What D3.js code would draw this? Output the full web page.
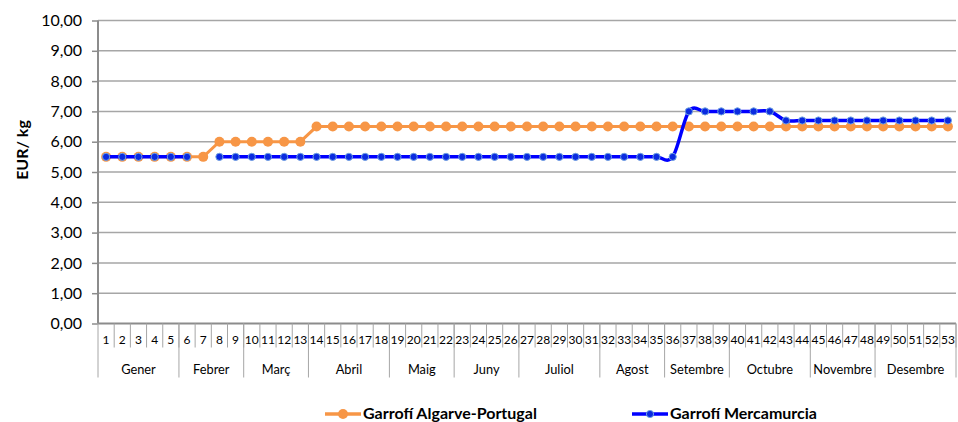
<html>
<head>
<meta charset="utf-8">
<script src="https://cdn.jsdelivr.net/npm/d3@7"></script>
<style>
body { margin: 0; background: white; }
text { font-family: Lato, "Liberation Sans", sans-serif; fill: #000; }
</style>
</head>
<body>
<svg id="chart" width="958" height="422"></svg>
<script>
// categories: week numbers
var weeks = [1,2,3,4,5,6,7,8,9,10,11,12,13,14,15,16,17,18,19,20,21,22,23,24,25,26,27,
  28,29,30,31,32,33,34,35,36,37,38,39,40,41,42,43,44,45,46,47,48,49,50,51,52,53];
var months = ["Gener","Febrer","Març","Abril","Maig","Juny","Juliol","Agost","Setembre","Octubre","Novembre","Desembre"];
var monthWeeks = [5,4,4,5,4,4,5,4,4,5,4,5];
var yTicks = [0,1,2,3,4,5,6,7,8,9,10];

// weeks 1-7, 8-13, 14-53
var algarve = [5.5,5.5,5.5,5.5,5.5,5.5,5.5,
  6.0,6.0,6.0,6.0,6.0,6.0,
  6.5,6.5,6.5,6.5,6.5,6.5,6.5,6.5,6.5,6.5,6.5,6.5,6.5,6.5,6.5,6.5,6.5,6.5,6.5,6.5,
  6.5,6.5,6.5,6.5,6.5,6.5,6.5,6.5,6.5,6.5,6.5,6.5,6.5,6.5,6.5,6.5,6.5,6.5,6.5,6.5];
// weeks 1-6, (7 missing), 8-36, 37-42, 43-53
var mercamurcia = [5.5,5.5,5.5,5.5,5.5,5.5,null,
  5.5,5.5,5.5,5.5,5.5,5.5,5.5,5.5,5.5,5.5,5.5,5.5,5.5,5.5,5.5,5.5,5.5,5.5,5.5,5.5,
  5.5,5.5,5.5,5.5,5.5,5.5,5.5,5.5,5.5,
  7.0,7.0,7.0,7.0,7.0,7.0,
  6.7,6.7,6.7,6.7,6.7,6.7,6.7,6.7,6.7,6.7,6.7];

var svg = d3.select("#chart");
var pLeft = 98, pRight = 956, pTop = 20.5, pBottom = 323.5;
var font = "Lato, 'Liberation Sans', sans-serif";

var x = d3.scaleBand().domain(weeks).range([pLeft, pRight]);
var y = d3.scaleLinear().domain([0, 10]).range([pBottom, pTop]);
var loc = d3.formatLocale({decimal: ",", thousands: ".", grouping: [3], currency: ["", "€"]});
var fmt = loc.format(".2f");

// grid
svg.append("g").selectAll("line")
  .data(yTicks.filter(function (d) { return d > 0; }))
  .enter().append("line")
  .attr("x1", pLeft).attr("x2", pRight)
  .attr("y1", function (d) { return y(d); }).attr("y2", function (d) { return y(d); })
  .attr("stroke", "#a6a6a6").attr("stroke-width", 1.5);

// y axis
var ya = svg.append("g").attr("transform", "translate(" + pLeft + ",0)")
  .call(d3.axisLeft(y).tickValues(yTicks).tickFormat(fmt).tickSize(6).tickPadding(10));
ya.select(".domain").remove();
ya.selectAll("line").attr("stroke", "#8c8c8c").attr("stroke-width", 1.5);
ya.selectAll("text").style("font-size", "16px").style("font-family", font);

svg.append("line").attr("x1", pLeft).attr("x2", pLeft).attr("y1", pTop).attr("y2", pBottom)
  .attr("stroke", "#8c8c8c").attr("stroke-width", 2);

// x axis: week labels
var xa = svg.append("g").attr("transform", "translate(0," + pBottom + ")")
  .call(d3.axisBottom(x).tickSize(0).tickPadding(12));
xa.select(".domain").remove();
xa.selectAll("text").style("font-size", "12px").style("font-family", font);

svg.append("line").attr("x1", pLeft).attr("x2", pRight).attr("y1", pBottom).attr("y2", pBottom)
  .attr("stroke", "#8c8c8c").attr("stroke-width", 2);

// week separators
svg.append("g").selectAll("line")
  .data(weeks)
  .enter().append("line")
  .attr("x1", function (d) { return x(d) + x.bandwidth(); })
  .attr("x2", function (d) { return x(d) + x.bandwidth(); })
  .attr("y1", pBottom).attr("y2", pBottom + 24)
  .attr("stroke", "#a6a6a6").attr("stroke-width", 1);

// month groups
var starts = [], s = 0;
monthWeeks.forEach(function (n) { starts.push(s); s += n; });
var mg = svg.append("g");
months.forEach(function (m, i) {
  var a = x(weeks[starts[i]]);
  var b = x(weeks[starts[i] + monthWeeks[i] - 1]) + x.bandwidth();
  mg.append("text").attr("x", (a + b) / 2).attr("y", pBottom + 50)
    .attr("text-anchor", "middle").style("font-size", "12.8px").text(m);
  mg.append("line").attr("x1", b).attr("x2", b).attr("y1", pBottom).attr("y2", pBottom + 54)
    .attr("stroke", "#a6a6a6").attr("stroke-width", 1);
});
mg.append("line").attr("x1", pLeft).attr("x2", pLeft).attr("y1", pBottom).attr("y2", pBottom + 54)
  .attr("stroke", "#a6a6a6").attr("stroke-width", 1);

// y title
svg.append("text").attr("transform", "translate(28,150) rotate(-90)")
  .attr("text-anchor", "middle").style("font-size", "16px").style("font-weight", "bold")
  .text("EUR/ kg");

var cx = function (d, i) { return x(weeks[i]) + x.bandwidth() / 2; };

// orange series
svg.append("path").datum(algarve)
  .attr("fill", "none").attr("stroke", "#f79646").attr("stroke-width", 3)
  .attr("d", d3.line().x(cx).y(function (d) { return y(d); }));
svg.append("g").selectAll("circle").data(algarve).enter().append("circle")
  .attr("cx", cx).attr("cy", function (d) { return y(d); }).attr("r", 5)
  .attr("fill", "#f79646");

// blue series
svg.append("path").datum(mercamurcia)
  .attr("fill", "none").attr("stroke", "#0000ff").attr("stroke-width", 3.5)
  .attr("d", d3.line().defined(function (d) { return d != null; })
    .x(cx).y(function (d) { return y(d); }).curve(d3.curveCatmullRom.alpha(0)));
svg.append("g").selectAll("circle").data(mercamurcia.map(function (d, i) { return {v: d, i: i}; })
    .filter(function (d) { return d.v != null; }))
  .enter().append("circle")
  .attr("cx", function (d) { return cx(null, d.i); }).attr("cy", function (d) { return y(d.v); })
  .attr("r", 3.6).attr("fill", "#0a2be0").attr("stroke", "#6fa0e0").attr("stroke-width", 1);

// legend
var legend = [
  {name: "Garrofí Algarve-Portugal", color: "#f79646", x: 325, r: 5, fill: "#f79646", stroke: "none"},
  {name: "Garrofí Mercamurcia", color: "#0000ff", x: 632, r: 3.6, fill: "#0a2be0", stroke: "#6fa0e0"}
];
var lg = svg.append("g").selectAll("g").data(legend).enter().append("g")
  .attr("transform", function (d) { return "translate(" + d.x + ",414)"; });
lg.append("line").attr("x1", 0).attr("x2", 36).attr("stroke", function (d) { return d.color; })
  .attr("stroke-width", 3.5);
lg.append("circle").attr("cx", 18).attr("r", function (d) { return d.r; })
  .attr("fill", function (d) { return d.fill; }).attr("stroke", function (d) { return d.stroke; });
lg.append("text").attr("x", 38).attr("y", 5).style("font-size", "16px").style("font-weight", "bold")
  .text(function (d) { return d.name; });
</script>
</body>
</html>
